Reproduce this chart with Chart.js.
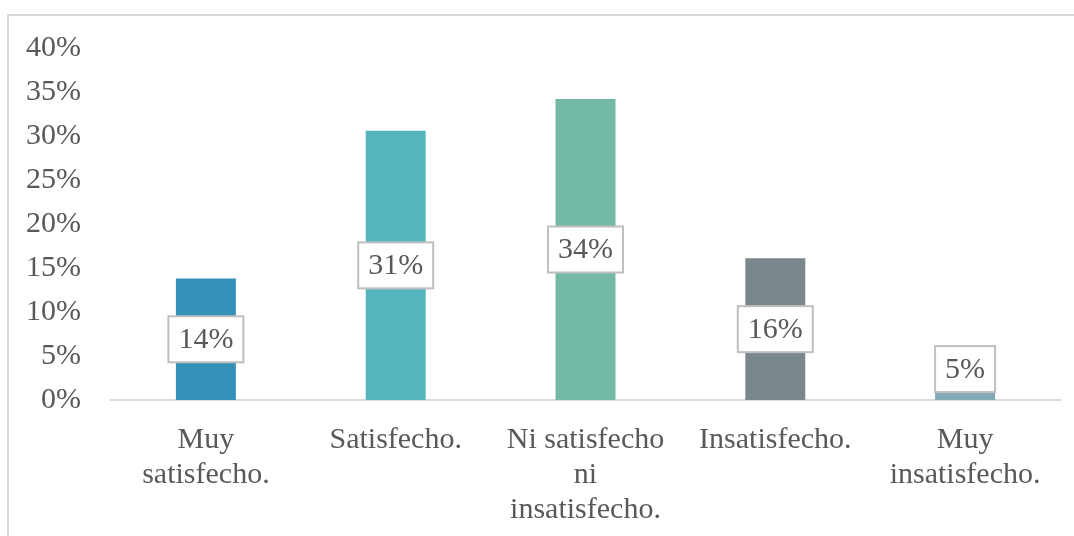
<!DOCTYPE html>
<html lang="es">
<head>
    <meta charset="UTF-8">
    <title>Nivel de satisfacción</title>
    <script src="https://cdn.jsdelivr.net/npm/chart.js"></script>
    <style>
        html, body { margin: 0; padding: 0; background: #fff; overflow: hidden; }
        #marco {
            position: absolute; left: 7px; top: 14px;
            width: 1200px; height: 700px;
            border: 2px solid #d9d9d9;
        }
        #grafico { position: absolute; left: 0; top: 0; }
    </style>
</head>
<body>
    <div id="marco"></div>
    <canvas id="grafico" width="1074" height="536"></canvas>

    <script>
        // Datos
        const categorias = [
            ["Muy", "satisfecho."],
            "Satisfecho.",
            ["Ni satisfecho", "ni", "insatisfecho."],
            "Insatisfecho.",
            ["Muy", "insatisfecho."]
        ];
        const valores = [13.8, 30.6, 34.2, 16.1, 0.9];
        const etiquetas = ["14%", "31%", "34%", "16%", "5%"];
        const colores = ["#3691b9", "#55b5bf", "#74b9a6", "#7a888d", "#82aab6"];
        const marcasY = [0, 5, 10, 15, 20, 25, 30, 35, 40];

        const fuente = "'Liberation Serif', 'Times New Roman', serif";
        const gris = "#595959";

        // Etiquetas de datos con caja blanca
        const cajasDatos = {
            id: "cajasDatos",
            afterDatasetsDraw(chart) {
                const ctx = chart.ctx;
                const meta = chart.getDatasetMeta(0);
                ctx.save();
                ctx.font = "30px " + fuente;
                ctx.textAlign = "center";
                ctx.textBaseline = "middle";
                meta.data.forEach((bar, i) => {
                    const texto = etiquetas[i];
                    const w = ctx.measureText(texto).width + 20;
                    const h = 46;
                    let cy = (bar.y + bar.base) / 2;
                    // si la barra es muy baja, la caja se coloca encima
                    if (bar.base - bar.y < h) cy = bar.y - h / 2;
                    const x = bar.x - w / 2;
                    const y = cy - h / 2;
                    ctx.fillStyle = "#ffffff";
                    ctx.fillRect(x, y, w, h);
                    ctx.strokeStyle = "#bfbfbf";
                    ctx.lineWidth = 2;
                    ctx.strokeRect(x, y, w, h);
                    ctx.fillStyle = gris;
                    ctx.fillText(texto, bar.x, cy + 1);
                });
                ctx.restore();
            }
        };

        new Chart(document.getElementById("grafico").getContext("2d"), {
            type: "bar",
            data: {
                labels: categorias,
                datasets: [{
                    data: valores,
                    backgroundColor: colores,
                    borderWidth: 0,
                    categoryPercentage: 1,
                    barPercentage: 0.316
                }]
            },
            options: {
                responsive: false,
                animation: false,
                layout: { padding: { top: 47, right: 14, left: 0, bottom: 0 } },
                plugins: {
                    legend: { display: false },
                    tooltip: { enabled: false }
                },
                scales: {
                    x: {
                        grid: { display: false, drawTicks: false },
                        border: { display: true, color: "#d9d9d9", width: 2 },
                        ticks: {
                            color: gris,
                            font: { family: fuente, size: 30, lineHeight: 1.18 },
                            padding: 22,
                            maxRotation: 0,
                            autoSkip: false
                        },
                        afterFit(scale) { scale.height = 136; }
                    },
                    y: {
                        min: 0,
                        max: 40,
                        grid: { display: false, drawTicks: false },
                        border: { display: false },
                        afterBuildTicks(scale) {
                            scale.ticks = marcasY.map(v => ({ value: v }));
                        },
                        ticks: {
                            color: gris,
                            font: { family: fuente, size: 30 },
                            padding: 30,
                            callback: v => v + "%"
                        },
                        afterFit(scale) { scale.width = 111; }
                    }
                }
            },
            plugins: [cajasDatos]
        });
    </script>
</body>
</html>
